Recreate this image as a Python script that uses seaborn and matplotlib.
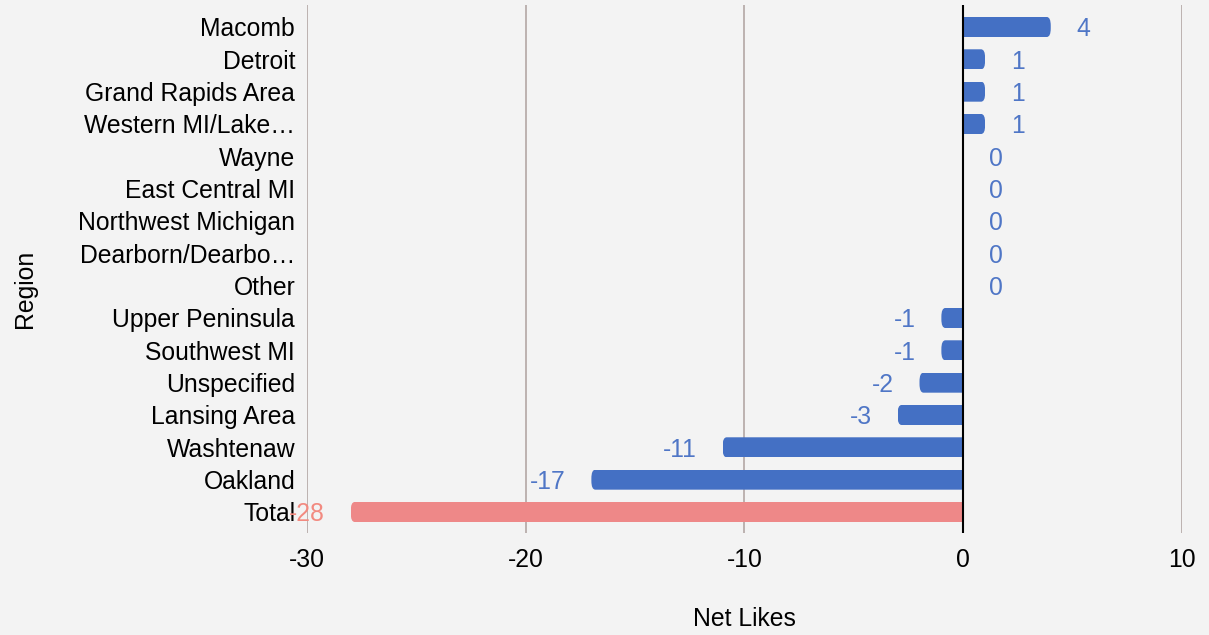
import matplotlib
matplotlib.use("Agg")
import matplotlib.pyplot as plt
from matplotlib.patches import FancyBboxPatch, Rectangle
import seaborn as sns
import pandas as pd

regions = ["Macomb", "Detroit", "Grand Rapids Area", "Western MI/Lake\u2026", "Wayne",
           "East Central MI", "Northwest Michigan", "Dearborn/Dearbo\u2026", "Other",
           "Upper Peninsula", "Southwest MI", "Unspecified", "Lansing Area",
           "Washtenaw", "Oakland", "Total"]
net_likes = [4, 1, 1, 1, 0, 0, 0, 0, 0, -1, -1, -2, -3, -11, -17, -28]
x_ticks = [-30, -20, -10, 0, 10]

BLUE = "#4470c4"
BLUE_TEXT = "#4f76c6"
SALMON = "#ee8888"
SALMON_TEXT = "#f28a80"
BG = "#f3f3f3"
FS = 17.8

df = pd.DataFrame({"Region": regions, "Net Likes": net_likes})
colors = [SALMON if r == "Total" else BLUE for r in regions]

sns.set_theme(style="white")
plt.rcParams["font.family"] = ["Liberation Sans", "DejaVu Sans"]

fig = plt.figure(figsize=(12.09, 6.35), dpi=100, facecolor=BG)
ax = fig.add_axes([307 / 1209, 1 - 533 / 635, 875 / 1209, 528 / 635])
ax.set_facecolor(BG)

sns.barplot(data=df, x="Net Likes", y="Region", hue="Region", palette=colors,
            legend=False, orient="h", width=0.62, saturation=1, ax=ax)

ax.set_xlim(-30, 10)
ax.set_ylim(len(regions) - 1 + 0.65, -0.68)

# rounded caps on the outer end of each bar
fig.canvas.draw()
px_x = ax.transData.transform((1, 0))[0] - ax.transData.transform((0, 0))[0]
px_y = abs(ax.transData.transform((0, 1))[1] - ax.transData.transform((0, 0))[1])
r_px = 4.0
rx = r_px / px_x
aspect = px_x / px_y
for p in list(ax.patches):
    x0, y0 = p.get_x(), p.get_y()
    w, h = p.get_width(), p.get_height()
    if w == 0:
        p.remove()
        continue
    left, right = (x0, x0 + w) if w > 0 else (x0 + w, x0)
    fc = p.get_facecolor()
    if right <= 0:  # negative bar: square end at zero
        bl, br = left, right + 2 * rx
    else:
        bl, br = left - 2 * rx, right
    rb = FancyBboxPatch((bl, y0), br - bl, h,
                        boxstyle=f"round,pad=0,rounding_size={rx}",
                        mutation_aspect=1 / aspect, facecolor=fc,
                        edgecolor="none", zorder=2)
    clip = Rectangle((left, y0), right - left, h, transform=ax.transData)
    ax.add_patch(rb)
    rb.set_clip_path(clip)
    p.remove()

# vertical grid and zero line
for t in x_ticks:
    if t == 0:
        ax.axvline(0, color="black", lw=1.5, zorder=3)
    else:
        ax.axvline(t, color="#bcb2b0", lw=1.4, zorder=1)

# value labels
for i, (r, v) in enumerate(zip(regions, net_likes)):
    col = SALMON_TEXT if r == "Total" else BLUE_TEXT
    if v >= 0:
        ax.annotate(f"{v}", (v, i), xytext=(18.5, 0), textcoords="offset points",
                    ha="left", va="center_baseline", fontsize=FS, color=col, zorder=4)
    else:
        ax.annotate(f"{v}", (v, i), xytext=(-18.5, 0), textcoords="offset points",
                    ha="right", va="center_baseline", fontsize=FS, color=col, zorder=4)

for s in ax.spines.values():
    s.set_visible(False)

ax.set_xticks(x_ticks)
ax.set_xticklabels([str(t) for t in x_ticks])
ax.tick_params(axis="x", length=0, pad=11, labelsize=FS, labelcolor="black")
ax.tick_params(axis="y", length=0, pad=8.5, labelsize=FS, labelcolor="black")

ax.set_xlabel("Net Likes", fontsize=FS, color="black")
ax.set_ylabel("Region", fontsize=FS, color="black")
ax.xaxis.set_label_coords(0.5, -0.14)
ax.xaxis.label.set_va("top")
ax.yaxis.set_label_coords(-0.322, 0.462)
ax.yaxis.label.set_va("center")

fig.savefig("out.png", dpi=100, facecolor=BG)
